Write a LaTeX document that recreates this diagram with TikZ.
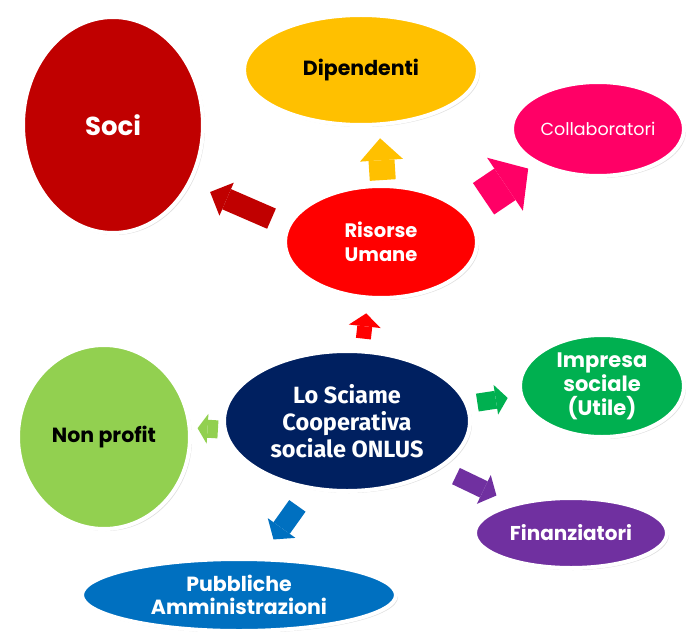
\documentclass[tikz,border=0pt]{standalone}
\usepackage{fontspec}
\setmainfont{Poppins}
\newfontfamily\calibri{Fira Sans}
\usepackage{tikz}
\usetikzlibrary{arrows.meta, shapes.geometric, shadows}

\definecolor{socired}{HTML}{C00000}
\definecolor{dipyellow}{HTML}{FFC000}
\definecolor{collpink}{HTML}{FF0066}
\definecolor{risred}{HTML}{FF0000}
\definecolor{scinavy}{HTML}{002060}
\definecolor{npgreen}{HTML}{92D050}
\definecolor{impgreen}{HTML}{00B050}
\definecolor{finpurple}{HTML}{7030A0}
\definecolor{pubblue}{HTML}{0070C0}

\begin{document}
\begin{tikzpicture}[
x=1pt, y=-1pt,
bubble/.style={ellipse, draw=white, line width=4pt, inner sep=0pt, align=center,
  drop shadow={opacity=0.25, shadow xshift=2pt, shadow yshift=-2pt}},
blockarrow/.style n args={4}{draw=#1, line width=#2,
  -{Triangle[length=#3, width=#4, line width=0pt]}}
]
\useasboundingbox[fill=white] (0,0) rectangle (687,631);

% the bubbles
\node[bubble, fill=socired, text=white, minimum width=180pt, minimum height=216pt,
  font=\bfseries\fontsize{26}{30}\selectfont] (soci) at (113,125) {Soci};
\node[bubble, fill=dipyellow, text=black, minimum width=234pt, minimum height=110pt,
  font=\bfseries\fontsize{20.5}{24}\selectfont] (dip) at (361,70) {Dipendenti};
\node[bubble, fill=collpink, text=white, minimum width=172pt, minimum height=94pt,
  font=\fontsize{17.5}{20}\selectfont] (coll) at (598,129) {Collaboratori};
\node[bubble, fill=risred, text=white, minimum width=192pt, minimum height=112pt,
  font=\bfseries\fontsize{19.5}{24}\selectfont] (ris) at (381,242) {Risorse\\Umane};
\node[bubble, fill=scinavy, text=white, minimum width=246pt, minimum height=140pt,
  font=\fontsize{23.5}{27}\calibri\bfseries] (sci) at (347,421) {Lo Sciame\\Cooperativa\\sociale ONLUS};
\node[bubble, fill=npgreen, text=black, minimum width=172pt, minimum height=184pt,
  font=\bfseries\fontsize{20.5}{24}\selectfont] (np) at (104,437) {Non profit};
\node[bubble, fill=impgreen, text=white, minimum width=164pt, minimum height=102pt,
  font=\bfseries\fontsize{21}{24}\selectfont] (imp) at (602,386) {Impresa\\sociale\\(Utile)};
\node[bubble, fill=finpurple, text=white, minimum width=192pt, minimum height=70pt,
  font=\bfseries\fontsize{20}{22}\selectfont] (fin) at (571,533) {Finanziatori};
\node[bubble, fill=pubblue, text=white, minimum width=314pt, minimum height=72pt,
  font=\bfseries\fontsize{20.5}{23}\selectfont] (pub) at (239,595) {Pubbliche\\Amministrazioni};

% the block arrows
\draw[blockarrow={socired}{22pt}{18pt}{36pt}, shorten <=17pt, shorten >=21pt] (ris.170) -- (soci.-37);
\draw[blockarrow={dipyellow}{26pt}{22pt}{43pt}, shorten <=4pt, shorten >=12pt] (ris.88) -- (dip.-72);
\draw[blockarrow={collpink}{38pt}{28pt}{64pt}, shorten <=23pt, shorten >=9pt] (ris.20) -- (coll.209);
\draw[blockarrow={risred}{15pt}{13pt}{32pt}, shorten <=11pt, shorten >=14pt] (sci.78) -- (ris.-103);
\draw[blockarrow={npgreen}{18pt}{10pt}{30pt}, shorten <=5pt, shorten >=6pt] (sci.184) -- (np.6);
\draw[blockarrow={impgreen}{18pt}{12pt}{30pt}, shorten <=9pt, shorten >=12pt] (sci.8) -- (imp.187);
\draw[blockarrow={finpurple}{18pt}{14pt}{32pt}, shorten <=17pt, shorten >=18pt] (sci.-27) -- (fin.153);
\draw[blockarrow={pubblue}{20pt}{14pt}{34pt}, shorten <=20pt, shorten >=22pt] (sci.-119) -- (pub.60);
\end{tikzpicture}
\end{document}
